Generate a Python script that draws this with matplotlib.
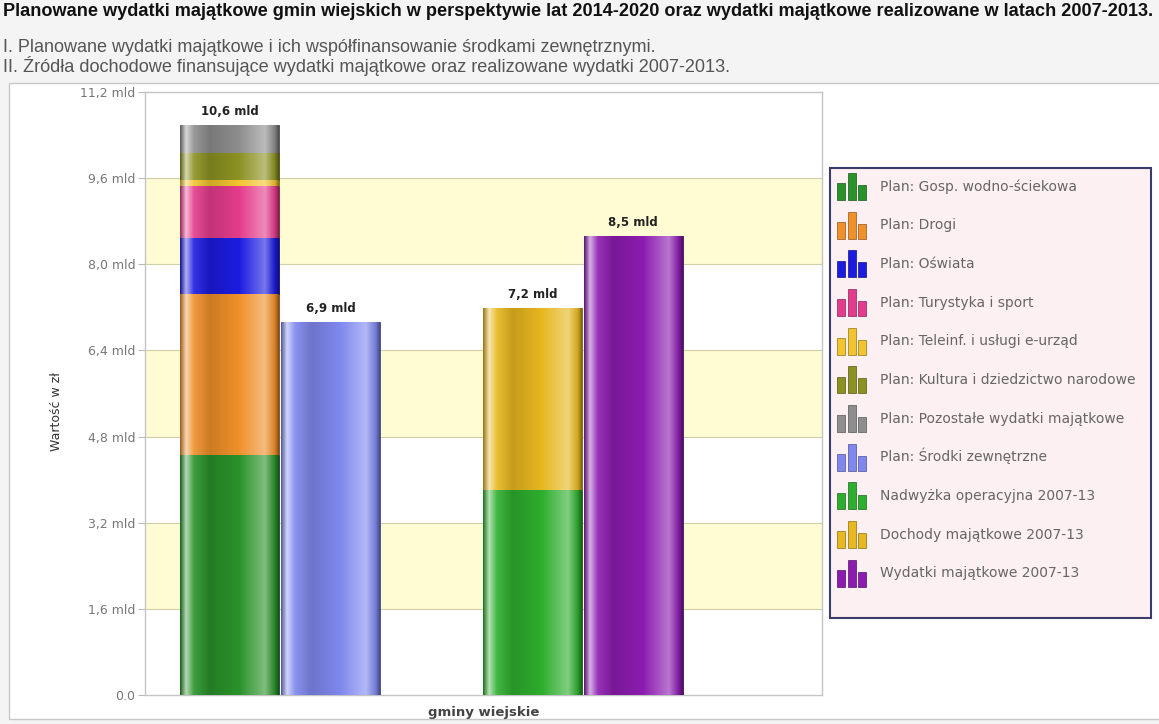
import numpy as np
import matplotlib
matplotlib.use('Agg')
import matplotlib.pyplot as plt
from matplotlib.colors import LinearSegmentedColormap, to_rgb
from matplotlib.patches import Rectangle
from matplotlib.legend_handler import HandlerBase
from matplotlib.container import BarContainer

# --- data ---
category = 'gminy wiejskie'

plan_labels = ['Plan: Gosp. wodno-ściekowa', 'Plan: Drogi', 'Plan: Oświata',
               'Plan: Turystyka i sport', 'Plan: Teleinf. i usługi e-urząd',
               'Plan: Kultura i dziedzictwo narodowe', 'Plan: Pozostałe wydatki majątkowe']
plan_values = [4.46, 2.99, 1.04, 0.97, 0.11, 0.50, 0.52]
plan_colors = ['#2a922a', '#f0902a', '#1c1ce0', '#e43c8c', '#f2c430', '#8c9222', '#8e8e8e']

ext_label = 'Plan: Środki zewnętrzne'
ext_value = 6.93
ext_color = '#7f88ee'

real_labels = ['Nadwyżka operacyjna 2007-13', 'Dochody majątkowe 2007-13']
real_values = [3.81, 3.38]
real_colors = ['#2eae2e', '#e8b820']

spend_label = 'Wydatki majątkowe 2007-13'
spend_value = 8.53
spend_color = '#8c1cb0'

yticks = np.arange(0, 11.21, 1.6)


def mix(c, other, t):
    c = np.array(to_rgb(c))
    o = np.array(to_rgb(other))
    return tuple(c * (1 - t) + o * t)


def shade(ax, patch, color):
    # cylinder look: gradient clipped to the bar
    stops = [(0.0, mix(color, 'black', 0.35)), (0.06, mix(color, 'white', 0.65)),
             (0.14, mix(color, 'white', 0.1)), (0.3, mix(color, 'black', 0.15)),
             (0.6, color), (0.86, mix(color, 'white', 0.4)),
             (0.96, mix(color, 'black', 0.1)), (1.0, mix(color, 'black', 0.45))]
    cmap = LinearSegmentedColormap.from_list('g', stops)
    x0, y0 = patch.get_x(), patch.get_y()
    w, h = patch.get_width(), patch.get_height()
    im = ax.imshow(np.linspace(0, 1, 256)[np.newaxis, :], extent=[x0, x0 + w, y0, y0 + h],
                   aspect='auto', cmap=cmap, zorder=patch.get_zorder() + 0.1)
    im.set_clip_path(patch)


def fmt_mld(v):
    return f'{v:.1f}'.replace('.', ',') + ' mld'


def fit_width(fig, txt, target_px):
    # the source is a bit wide, so size the text to its width
    r = fig.canvas.get_renderer()
    cur = txt.get_window_extent(r).width
    txt.set_fontsize(txt.get_fontsize() * target_px / cur)


fig = plt.figure(figsize=(11.59, 7.24), dpi=100)
fig.patch.set_facecolor('#f4f4f4')
W, H = 1159, 724

# white panel behind the chart
fig.patches.append(Rectangle((9 / W, 1 - 719 / H), 1160 / W, (719 - 83) / H, transform=fig.transFigure,
                             facecolor='white', edgecolor='#c8c8c8', lw=1, zorder=-2))

t1 = fig.text(3 / W, 1 - 11 / H, 'Planowane wydatki majątkowe gmin wiejskich w perspektywie lat 2014-2020 '
              'oraz wydatki majątkowe realizowane w latach 2007-2013.',
              fontsize=10.5, fontweight='bold', family='Liberation Sans', va='center', color='#111')
t2 = fig.text(3 / W, 1 - 47 / H, 'I. Planowane wydatki majątkowe i ich współfinansowanie środkami zewnętrznymi.',
              fontsize=9, family='Liberation Sans', va='center', color='#555')
t3 = fig.text(3 / W, 1 - 66 / H, 'II. Źródła dochodowe finansujące wydatki majątkowe oraz realizowane wydatki 2007-2013.',
              fontsize=9, family='Liberation Sans', va='center', color='#555')
fit_width(fig, t1, 1150)
fit_width(fig, t2, 655)
fit_width(fig, t3, 730)

ax = fig.add_axes([145 / W, 1 - 695 / H, (822 - 145) / W, (695 - 92) / H])
ax.set_facecolor('white')

# alternating bands
for i in range(len(yticks) - 1):
    if i % 2 == 1:
        ax.axhspan(yticks[i], yticks[i + 1], color='#fffbd2', zorder=0, lw=0)
for y in yticks[1:-1]:
    ax.axhline(y, color='#cfcfa6', lw=0.8, zorder=1)

w = 0.98
lab_kw = dict(xytext=(0, 5), textcoords='offset points', ha='center', va='bottom',
              fontsize=8.5, fontweight='bold', color='#222')
# stacked plan
bottom = 0
for v, c, lab in zip(plan_values, plan_colors, plan_labels):
    b = ax.bar(-2, v, w, bottom=bottom, color=c, edgecolor=mix(c, 'black', 0.5), lw=0.6, zorder=3, label=lab)
    shade(ax, b[0], c)
    bottom += v
ax.annotate(fmt_mld(bottom), (-2, bottom), **lab_kw)

b = ax.bar(-1, ext_value, w, color=ext_color, edgecolor=mix(ext_color, 'black', 0.5), lw=0.6, zorder=3,
           label=ext_label)
shade(ax, b[0], ext_color)
ax.annotate(fmt_mld(ext_value), (-1, ext_value), **lab_kw)

bottom = 0
for v, c, lab in zip(real_values, real_colors, real_labels):
    b = ax.bar(1, v, w, bottom=bottom, color=c, edgecolor=mix(c, 'black', 0.5), lw=0.6, zorder=3, label=lab)
    shade(ax, b[0], c)
    bottom += v
ax.annotate(fmt_mld(bottom), (1, bottom), **lab_kw)

b = ax.bar(2, spend_value, w, color=spend_color, edgecolor=mix(spend_color, 'black', 0.5), lw=0.6, zorder=3,
           label=spend_label)
shade(ax, b[0], spend_color)
ax.annotate(fmt_mld(spend_value), (2, spend_value), **lab_kw)

ax.set_xlim(-2.84, 3.87)
ax.set_ylim(0, 11.2)
ax.set_yticks(yticks)
ax.set_yticklabels(['0.0'] + [fmt_mld(v) for v in yticks[1:]], fontsize=9, color='#777')
# category label sits in the middle of the plot area
ax.set_xticks([np.mean(ax.get_xlim())])
ax.set_xticklabels([category], fontsize=9.5, fontweight='bold', color='#444')
ax.tick_params(axis='y', length=5, color='#bbbbbb', pad=2)
ax.tick_params(axis='x', length=0, pad=8)
for s in ax.spines.values():
    s.set_color('#c4c4c4')
    s.set_linewidth(1)
ax.set_ylabel('Wartość w zł', fontsize=9, color='#333')
ax.yaxis.set_label_coords(-(145 - 63) / (822 - 145), 0.47)


# legend with little bar-chart icons
class BarIcon(HandlerBase):
    def create_artists(self, legend, orig_handle, xdescent, ydescent, width, height, fontsize, trans):
        c = orig_handle.patches[0].get_facecolor()
        arts = []
        bw = width * 0.28
        gap = width * 0.08
        for i, f in enumerate([0.62, 1.0, 0.55]):
            x = -xdescent + i * (bw + gap)
            r = Rectangle((x, -ydescent), bw, height * f, facecolor=c,
                          edgecolor=mix(c[:3], 'black', 0.4), lw=0.5, transform=trans)
            arts.append(r)
        return arts


handles, labels = ax.get_legend_handles_labels()
fig.patches.append(Rectangle((830 / W, 1 - 618 / H), (1151 - 830) / W, (618 - 168) / H,
                             transform=fig.transFigure, facecolor='#fdf0f3', edgecolor='#3c3c6a',
                             lw=1.5, zorder=1))
leg = fig.legend(handles, labels, loc='upper left', bbox_to_anchor=(837 / W, 1 - 173 / H),
                 frameon=False, fontsize=10, borderpad=0, borderaxespad=0,
                 handlelength=2.1, handleheight=2.6, handletextpad=1.0, labelspacing=0.85,
                 handler_map={BarContainer: BarIcon()})
for t in leg.get_texts():
    t.set_color('#666')

fig.savefig('out.png', dpi=100, facecolor=fig.get_facecolor())
